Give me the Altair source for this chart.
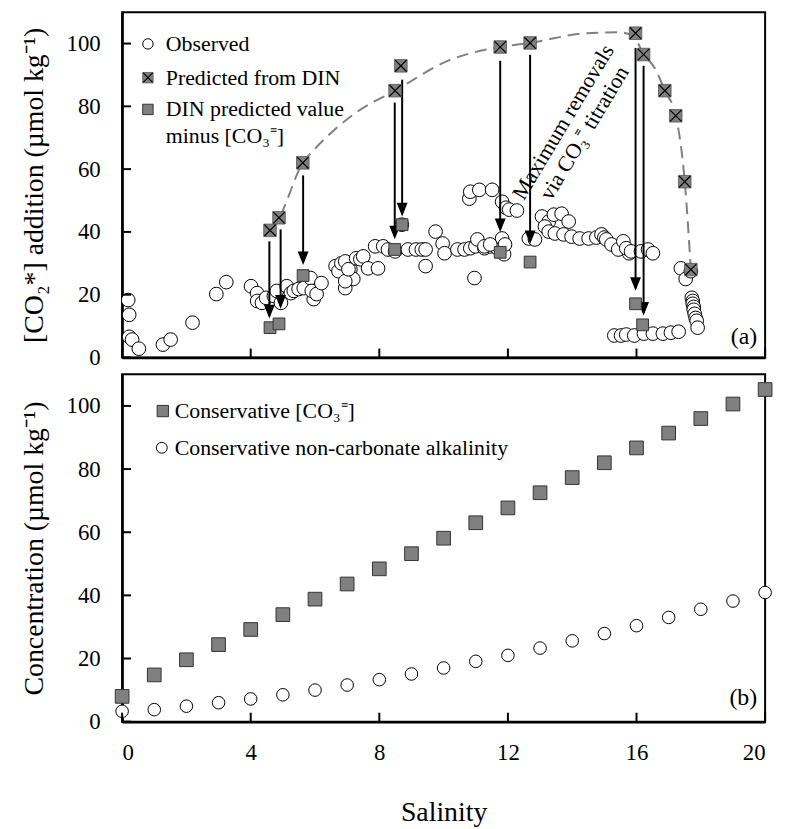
import altair as alt
import pandas as pd

FONT = "Liberation Serif"

# ---------------- Panel (a) data ----------------
obs_s = [0.19, 0.22, 0.22, 0.31, 0.52, 1.27, 1.51, 2.19, 2.93, 3.24,
         4.01, 4.20, 4.20, 4.35, 4.48, 4.72, 4.94, 4.81, 5.12, 5.25,
         5.34, 5.49, 5.65, 5.86, 5.96, 5.90, 6.05, 6.20, 6.64, 6.73,
         6.82, 6.94, 7.10, 7.19, 6.94, 7.28, 7.41, 7.50, 7.65, 7.96,
         7.87, 8.12, 8.27, 8.49, 8.70, 8.89, 9.14, 9.32, 9.44, 9.44,
         9.75, 9.97, 10.03, 10.43, 10.65, 10.83, 10.99, 10.96, 11.27, 11.45,
         10.80, 10.83, 11.11, 11.51, 11.82, 11.94, 12.04, 12.28, 11.67, 11.82,
         11.88, 11.91, 12.65, 12.84, 13.06, 13.27, 13.43, 13.67, 13.89, 13.15,
         13.27, 13.46, 13.73, 13.98, 14.23, 14.51, 14.75, 14.91, 15.00, 15.06,
         15.22, 15.43, 15.59, 15.77, 15.68, 15.83, 16.14, 16.36, 16.51, 17.38,
         17.53, 17.69, 17.72, 17.75, 17.75, 17.78, 17.78, 17.81, 17.84, 17.87,
         17.90, 15.31, 15.52, 15.68, 15.93, 16.23, 16.51, 16.82, 17.07, 17.31,
         11.05, 11.27, 11.45, 6.94, 7.04]
obs_v = [18.3, 13.6, 6.6, 5.7, 2.8, 4.1, 5.7, 11.1, 20.2, 24.0,
         22.7, 20.5, 18.0, 17.4, 19.0, 19.6, 17.4, 21.2, 22.7, 20.5,
         21.2, 21.8, 22.1, 25.3, 18.6, 21.2, 20.2, 23.7, 29.1, 27.5,
         30.0, 30.6, 28.1, 25.0, 22.1, 31.6, 31.3, 32.2, 28.4, 28.4,
         35.4, 35.4, 34.4, 33.8, 42.3, 34.4, 34.4, 34.4, 34.4, 29.1,
         40.1, 36.3, 33.2, 34.4, 34.4, 34.8, 35.4, 25.3, 34.8, 35.4,
         50.6, 52.8, 53.4, 53.4, 49.6, 47.7, 47.1, 46.8, 34.8, 37.9,
         32.9, 36.0, 37.9, 37.6, 44.9, 43.3, 45.5, 45.8, 43.3, 41.7,
         40.1, 39.5, 39.2, 38.5, 37.9, 37.9, 38.2, 39.2, 38.2, 37.6,
         36.0, 34.4, 37.0, 33.2, 34.8, 33.8, 33.8, 34.4, 33.2, 28.4,
         25.0, 27.5, 19.0, 18.0, 17.1, 16.1, 15.2, 13.9, 12.6, 11.7,
         9.5, 7.0, 7.0, 7.3, 7.0, 7.6, 7.6, 7.6, 7.9, 8.2,
         37.6, 35.4, 36.0, 24.3, 28.1]

pred_s = [4.60, 4.88, 5.62, 8.49, 8.67, 11.76, 12.69, 15.97, 16.22, 16.88, 17.22, 17.50, 17.69]
pred_v = [40.5, 44.5, 62.0, 85.0, 92.9, 98.9, 100.2, 103.3, 96.5, 85.0, 77.0, 56.0, 28.0]

curve_s = [4.60, 4.88, 5.62, 6.00, 6.60, 7.30, 8.49, 10.2, 11.76, 12.69, 14.35, 15.46, 15.90, 16.20, 16.60, 16.88, 17.22, 17.50, 17.69]
curve_v = [40.5, 44.5, 62.0, 66.5, 72.5, 78.2, 85.0, 94.8, 98.9, 100.2, 103.2, 103.6, 102.4, 97.0, 91.6, 85.0, 77.0, 56.0, 28.0]

minus_s = [4.60, 4.88, 5.63, 8.48, 8.71, 11.76, 12.69, 15.97, 16.19]
minus_v = [9.5, 10.7, 26.1, 34.4, 42.3, 33.5, 30.4, 17.1, 10.4]

arrow_s = [4.58, 4.93, 5.63, 8.48, 8.71, 11.76, 12.69, 15.97, 16.22]
arrow_from = [37.0, 40.8, 58.0, 81.2, 88.5, 94.5, 96.4, 98.6, 92.9]
arrow_to = [13.3, 16.4, 30.3, 38.5, 45.8, 40.8, 37.0, 22.1, 14.2]

note_text = ["Maximum removals", "via CO\u2083\u207c titration"]
note_s = [13.72, 14.38]
note_v = [75.0, 71.5]

legend_a = ["Observed", "Predicted from DIN", "DIN predicted value", "minus [CO\u2083\u207c]"]

# ---------------- Panel (b) data ----------------
cons_s = list(range(21))
cons_co3 = [8.0, 14.8, 19.6, 24.4, 29.2, 33.9, 38.8, 43.6, 48.4, 53.2, 58.1,
            63.0, 67.7, 72.5, 77.3, 82.0, 86.7, 91.4, 96.0, 100.6, 105.2]
cons_nca = [3.3, 3.8, 4.9, 6.0, 7.2, 8.5, 10.0, 11.6, 13.3, 15.1, 17.0,
            19.1, 21.0, 23.3, 25.6, 27.9, 30.4, 33.0, 35.6, 38.2, 40.9]
legend_b = ["Conservative [CO\u2083\u207c]", "Conservative non-carbonate alkalinity"]

y_ticks = [0, 20, 40, 60, 80, 100]
x_ticks = [0, 4, 8, 12, 16, 20]

W = 648
HA = 348
HB = 350

xs = alt.Scale(domain=[0, 20], nice=False, zero=False)
ys = alt.Scale(domain=[0, 110], nice=False)

axis_xa = alt.Axis(labels=False, title=None, values=x_ticks)
axis_xb = alt.Axis(title="Salinity", values=x_ticks, labelPadding=20, titlePadding=35)
axis_ya = alt.Axis(title="[CO\u2082*] addition (\u00b5mol kg\u207b\u00b9)", values=y_ticks)
axis_yb = alt.Axis(title="Concentration (\u00b5mol kg\u207b\u00b9)", values=y_ticks)


def X(field, axis):
    return alt.X(field, type="quantitative", scale=xs, axis=axis)


def Y(field, axis):
    return alt.Y(field, type="quantitative", scale=ys, axis=axis)


def ticks_layers(xaxis, yaxis, h):
    yt = alt.Chart(pd.DataFrame({"t": y_ticks})).mark_rule(color="black", strokeWidth=2).encode(
        y=Y("t", yaxis), x=alt.value(0), x2=alt.value(9))
    xt = alt.Chart(pd.DataFrame({"t": x_ticks})).mark_rule(color="black", strokeWidth=2).encode(
        x=X("t", xaxis), y=alt.value(h), y2=alt.value(h - 9))
    return [yt, xt]


def text_at(txt, px, py, size=22, align="left"):
    return alt.Chart(pd.DataFrame({"t": [txt]})).mark_text(
        font=FONT, fontSize=size, align=align, baseline="middle", color="black"
    ).encode(x=alt.value(px), y=alt.value(py), text="t:N")


def point_at(px, py, shape, size, fill, stroke="black", filled=True, sw=1):
    return alt.Chart(pd.DataFrame({"a": [0]})).mark_point(
        shape=shape, size=size, filled=filled, fill=fill, stroke=stroke, strokeWidth=sw, opacity=1
    ).encode(x=alt.value(px), y=alt.value(py))


XSHAPE = "M-1,-1L1,1M1,-1L-1,1"
ARROW = "M-0.8,-1L0.8,-1L0,1Z"

# ---------------- Panel (a) ----------------
df_obs = pd.DataFrame({"s": obs_s, "v": obs_v})
df_pred = pd.DataFrame({"s": pred_s, "v": pred_v})
df_curve = pd.DataFrame({"s": curve_s, "v": curve_v})
df_minus = pd.DataFrame({"s": minus_s, "v": minus_v})
df_arrow = pd.DataFrame({"s": arrow_s, "a": arrow_from, "b": arrow_to})
df_note = pd.DataFrame({"s": note_s, "v": note_v, "t": note_text})

obs = alt.Chart(df_obs).mark_point(shape="circle", size=190, filled=True, fill="white",
                                   stroke="black", strokeWidth=1, opacity=1).encode(
    x=X("s", axis_xa), y=Y("v", axis_ya))
curve = alt.Chart(df_curve).mark_line(color="#808080", strokeWidth=2, strokeDash=[12, 7],
                                      interpolate="monotone").encode(
    x=X("s", axis_xa), y=Y("v", axis_ya))
shafts = alt.Chart(df_arrow).mark_rule(color="black", strokeWidth=2).encode(
    x=X("s", axis_xa), y=Y("a", axis_ya), y2="b")
heads = alt.Chart(df_arrow).mark_point(shape=ARROW, size=100, filled=True, fill="black",
                                       stroke="black", opacity=1, yOffset=-5).encode(
    x=X("s", axis_xa), y=Y("b", axis_ya))
minus = alt.Chart(df_minus).mark_point(shape="square", size=140, filled=True, fill="#808080",
                                       stroke="#333333", strokeWidth=1, opacity=1).encode(
    x=X("s", axis_xa), y=Y("v", axis_ya))
pred_sq = alt.Chart(df_pred).mark_point(shape="square", size=160, filled=True, fill="#808080",
                                        stroke="#555555", strokeWidth=0.8, opacity=1).encode(
    x=X("s", axis_xa), y=Y("v", axis_ya))
pred_x = alt.Chart(df_pred).mark_point(shape=XSHAPE, size=130, filled=False,
                                       stroke="black", strokeWidth=1.2, opacity=1).encode(
    x=X("s", axis_xa), y=Y("v", axis_ya))
note = alt.Chart(df_note).mark_text(font=FONT, fontSize=22, angle=301, align="center",
                                    baseline="middle", color="black").encode(
    x=X("s", axis_xa), y=Y("v", axis_ya), text="t:N")

leg_a = [
    point_at(26, 32, "circle", 110, "white"),
    text_at(legend_a[0], 44, 32),
    point_at(26, 66, "square", 110, "#808080", stroke="#555555", sw=0.8),
    point_at(26, 66, XSHAPE, 90, "none", filled=False, sw=1.2),
    text_at(legend_a[1], 44, 66),
    point_at(26, 98, "square", 110, "#808080", stroke="#333333"),
    text_at(legend_a[2], 44, 98),
    text_at(legend_a[3], 44, 125),
    text_at("(a)", W - 8, HA - 21, size=24, align="right"),
]

top = alt.layer(obs, curve, shafts, heads, minus, pred_sq, pred_x, note,
                *ticks_layers(axis_xa, axis_ya, HA), *leg_a).properties(width=W, height=HA)

# ---------------- Panel (b) ----------------
df_b = pd.DataFrame({"s": cons_s, "c": cons_co3, "n": cons_nca})
sq_b = alt.Chart(df_b).mark_point(shape="square", size=190, filled=True, fill="#808080",
                                  stroke="#333333", strokeWidth=1, opacity=1).encode(
    x=X("s", axis_xb), y=Y("c", axis_yb))
ci_b = alt.Chart(df_b).mark_point(shape="circle", size=160, filled=True, fill="white",
                                  stroke="black", strokeWidth=1, opacity=1).encode(
    x=X("s", axis_xb), y=Y("n", axis_yb))

leg_b = [
    point_at(41, 37, "square", 130, "#808080", stroke="#333333"),
    text_at(legend_b[0], 53, 37),
    point_at(40, 74, "circle", 120, "white"),
    text_at(legend_b[1], 53, 74),
    text_at("(b)", W - 8, HB - 24, size=24, align="right"),
]

bottom = alt.layer(sq_b, ci_b, *ticks_layers(axis_xb, axis_yb, HB), *leg_b).properties(
    width=W, height=HB)

chart = alt.vconcat(top, bottom, spacing=3).properties(
    padding={"left": 11, "top": 0, "right": 5, "bottom": 0}
).configure_view(stroke="black", strokeWidth=2).configure_axis(
    grid=False, ticks=False, domainColor="black", domainWidth=2.5,
    labelFont=FONT, labelFontSize=23, labelColor="black", labelPadding=22,
    titleFont=FONT, titleFontSize=28, titleFontWeight="normal", titleColor="black",
    titlePadding=18
)

chart.save("out.html", embed_options={"renderer": "svg", "actions": False})
